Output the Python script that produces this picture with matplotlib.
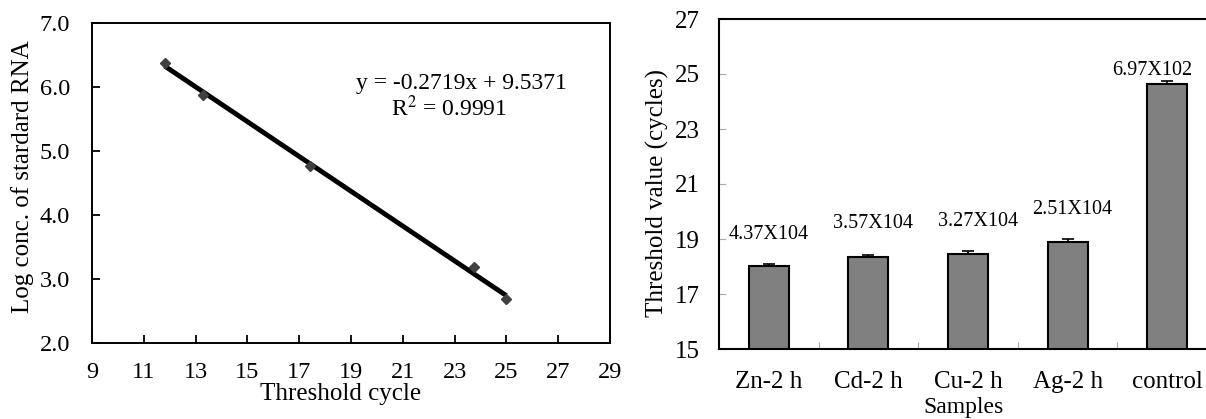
import matplotlib
matplotlib.use("Agg")
import matplotlib.pyplot as plt

plt.rcParams["font.family"] = ["Liberation Serif", "DejaVu Serif"]

# Standard curve data (left panel)
ct_standard = [11.8, 13.3, 17.43, 23.73, 25.0]
log_conc = [6.37, 5.88, 4.77, 3.18, 2.69]
slope = -0.2719
intercept = 9.5371
eq_text = "y = -0.2719x + 9.5371"
r2_text = "R$^2$ = 0.9991"

# Threshold values for samples (right panel)
samples = ["Zn-2 h", "Cd-2 h", "Cu-2 h", "Ag-2 h", "control"]
threshold = [18.0, 18.33, 18.47, 18.9, 24.62]
threshold_err = [0.09, 0.09, 0.08, 0.1, 0.12]
copy_labels = ["4.37X104", "3.57X104", "3.27X104", "2.51X104", "6.97X102"]
label_y = [19.16, 19.58, 19.62, 20.08, 25.12]

fig = plt.figure(figsize=(12.06, 4.19), dpi=100)
W, H = 1206, 419

# ---- Left panel: standard curve
ax1 = fig.add_axes([92 / W, (H - 343) / H, 518 / W, 320 / H])
x_fit = [min(ct_standard), max(ct_standard)]
y_fit = [slope * v + intercept for v in x_fit]
ax1.plot(x_fit, y_fit, color="black", lw=3.5, solid_capstyle="butt", zorder=2)
ax1.plot(ct_standard, log_conc, linestyle="none", marker="D", ms=5.5,
         color="#404040", zorder=3)
ax1.set_xlim(9, 29)
ax1.set_ylim(2, 7)
ax1.set_xticks(range(9, 30, 2))
ax1.set_yticks([2, 3, 4, 5, 6, 7])
ax1.set_yticklabels(["2.0", "3.0", "4.0", "5.0", "6.0", "7.0"])
ax1.tick_params(axis="both", direction="in", length=6, width=1.3, labelsize=17.5)
ax1.tick_params(axis="y", pad=16)
ax1.tick_params(axis="x", pad=14)
ax1.set_xlabel("Threshold cycle", fontsize=18, va="top")
ax1.xaxis.set_label_coords(0.479, -0.124)
ax1.set_ylabel("Log conc. of stardard RNA", fontsize=18, va="center")
ax1.yaxis.set_label_coords(-0.135, 0.519)
ax1.text(0.714, 0.8125, eq_text, transform=ax1.transAxes, fontsize=17,
         ha="center", va="center")
ax1.text(0.69, 0.734, r2_text, transform=ax1.transAxes, fontsize=17,
         ha="center", va="center", math_fontfamily="stix")
for s in ax1.spines.values():
    s.set_linewidth(1.4)

# ---- Right panel: threshold values
ax2 = fig.add_axes([719 / W, (H - 349) / H, 498 / W, 330 / H])
pos = range(len(samples))
ax2.bar(pos, threshold, width=0.4, bottom=0, color="#808080",
        edgecolor="black", linewidth=1.5, zorder=2)
ax2.errorbar(pos, threshold, yerr=[[0] * len(samples), threshold_err],
             fmt="none", ecolor="black", elinewidth=1.2, capsize=4,
             capthick=1.2, zorder=3)
label_dx = [0.0, 0.05, 0.1, 0.05, -0.15]
for i, (lab, yy) in enumerate(zip(copy_labels, label_y)):
    ax2.text(i + label_dx[i], yy, lab, ha="center", va="center", fontsize=14.5)
ax2.set_xlim(-0.5, len(samples) - 0.5)
ax2.set_ylim(15, 27)
ax2.set_yticks(range(15, 28, 2))
ax2.set_xticks(list(pos))
ax2.set_xticklabels(samples)
ax2.set_xticks([i + 0.5 for i in range(len(samples) - 1)], minor=True)
ax2.tick_params(axis="x", which="major", length=0, pad=16, labelsize=18)
ax2.tick_params(axis="x", which="minor", direction="in", length=5,
                width=0.8, color="#aaaaaa")
ax2.tick_params(axis="y", direction="in", length=5, width=0.8,
                color="#aaaaaa", labelsize=18, pad=14)
ax2.set_xlabel("Samples", fontsize=17, va="center")
ax2.xaxis.set_label_coords(0.49, -0.178)
ax2.set_ylabel("Threshold value (cycles)", fontsize=18, va="center")
ax2.yaxis.set_label_coords(-0.1245, 0.473)
for s in ax2.spines.values():
    s.set_linewidth(1.5)

fig.savefig("out.png", dpi=100)
